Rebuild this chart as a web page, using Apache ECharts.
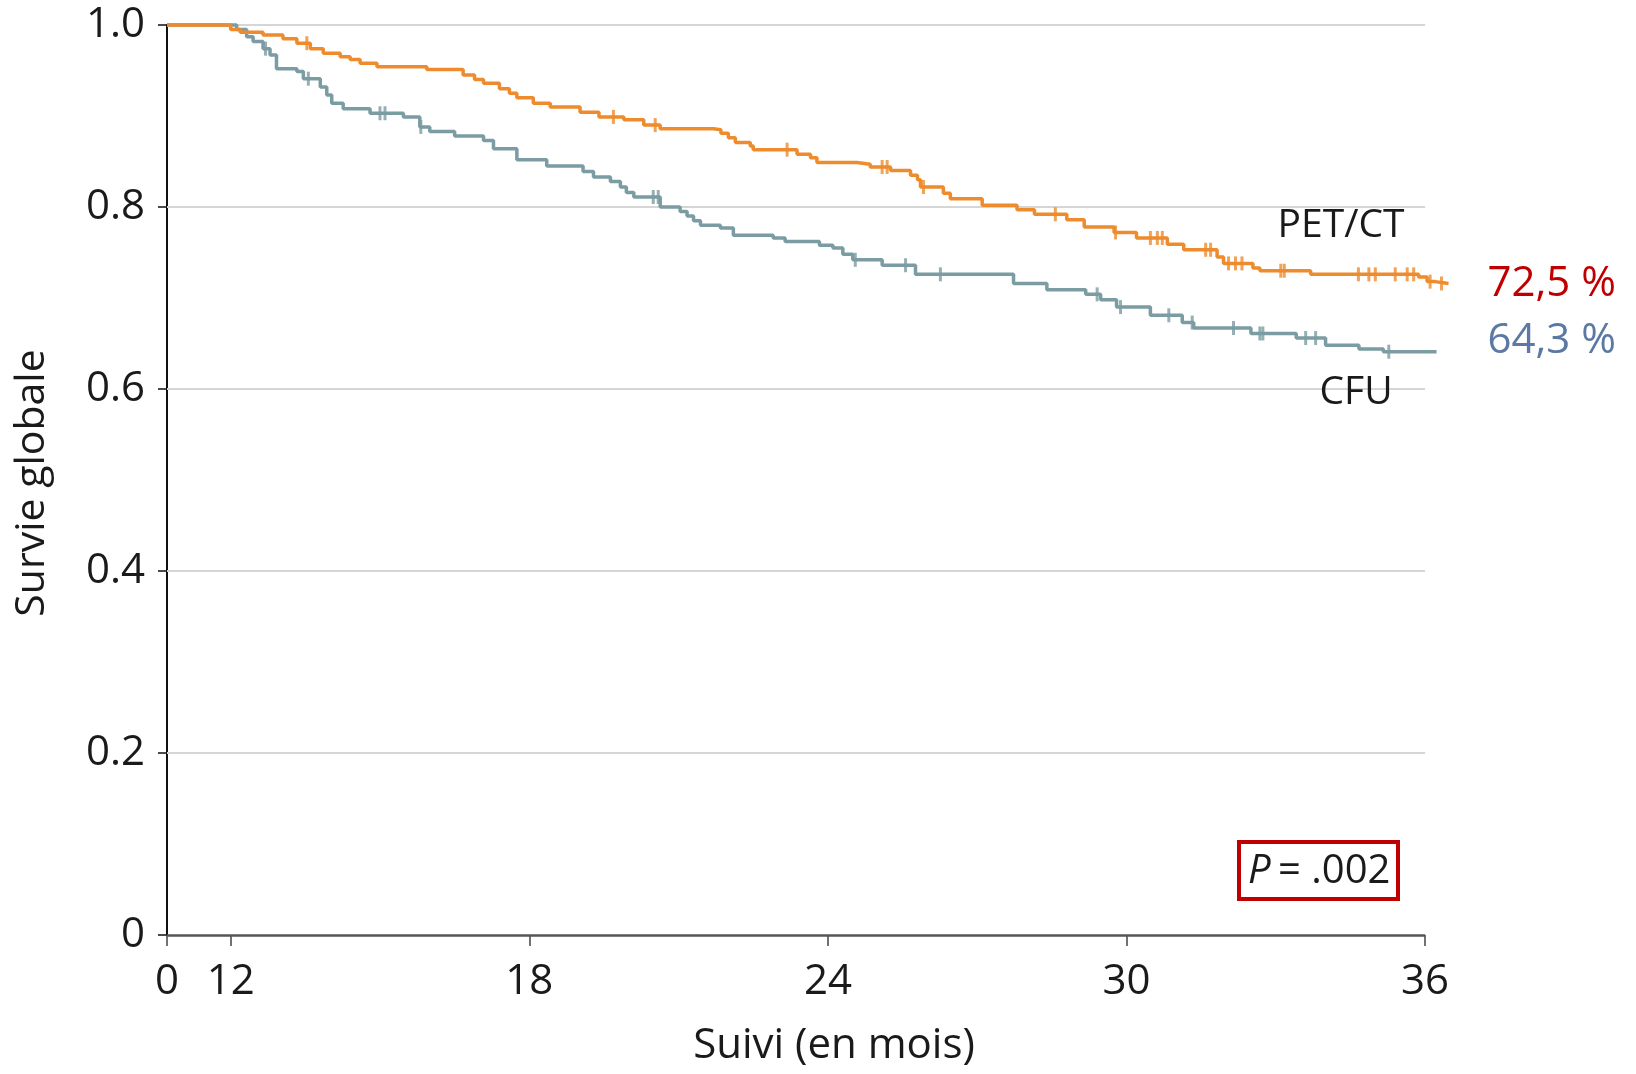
<!DOCTYPE html>
<html><head><meta charset="utf-8">
<script src="https://cdn.jsdelivr.net/npm/echarts@6/dist/echarts.min.js"></script>
<style>html,body{margin:0;padding:0;background:#fff}#c{width:1636px;height:1074px}</style>
</head><body><div id="c"></div>
<script>
// ---- data (months, survival) ----
const xTickLabels = [0, 12, 18, 24, 30, 36];
const yTickLabels = [0, 0.2, 0.4, 0.6, 0.8, 1.0];
const petSteps = [[0,1.0],[12.0,0.995],[12.19,0.992],[12.65,0.989],[13.05,0.985],[13.33,0.980],[13.6,0.974],[13.86,0.969],[14.2,0.965],[14.4,0.962],[14.6,0.958],[14.94,0.954],[15.94,0.951],[16.67,0.945],[16.9,0.940],[17.08,0.936],[17.4,0.930],[17.6,0.925],[17.75,0.920],[18.08,0.914],[18.42,0.910],[19.02,0.904],[19.4,0.899],[19.9,0.896],[20.3,0.890],[20.63,0.886],[21.7,0.885],[21.85,0.881],[22.0,0.876],[22.14,0.871],[22.44,0.867],[22.5,0.863],[23.38,0.858],[23.65,0.854],[23.78,0.849],[24.58,0.847],[24.85,0.844],[25.26,0.840],[25.66,0.835],[25.8,0.830],[25.86,0.822],[26.32,0.815],[26.46,0.809],[27.1,0.802],[27.8,0.797],[28.15,0.792],[28.8,0.786],[29.15,0.778],[29.75,0.772],[30.2,0.766],[30.82,0.759],[31.15,0.753],[31.82,0.745],[31.95,0.738],[32.54,0.733],[32.68,0.730],[33.7,0.726],[35.87,0.723],[36.04,0.718],[36.2,0.716],[36.47,0.716]];
const petCensor = [13.53,19.69,20.53,23.18,25.09,25.19,25.92,28.57,29.78,30.48,30.62,30.72,31.59,31.69,32.05,32.19,32.32,33.1,33.17,34.66,34.87,35.0,35.4,35.64,35.77,36.1,36.33];
const cfuSteps = [[0,1.0],[12.12,0.995],[12.32,0.987],[12.45,0.982],[12.65,0.974],[12.79,0.967],[12.92,0.952],[13.33,0.949],[13.46,0.941],[13.8,0.932],[13.93,0.923],[14.03,0.914],[14.26,0.908],[14.8,0.903],[15.47,0.899],[15.8,0.888],[16.0,0.883],[16.5,0.878],[17.08,0.873],[17.28,0.864],[17.75,0.852],[18.35,0.845],[19.08,0.839],[19.29,0.833],[19.63,0.828],[19.83,0.822],[19.95,0.816],[20.1,0.811],[20.63,0.800],[21.03,0.795],[21.17,0.790],[21.3,0.785],[21.44,0.780],[21.84,0.777],[22.1,0.769],[22.9,0.766],[23.14,0.762],[23.83,0.758],[24.1,0.755],[24.3,0.748],[24.5,0.742],[25.09,0.736],[25.76,0.726],[27.73,0.716],[28.4,0.709],[29.18,0.704],[29.48,0.698],[29.8,0.690],[30.48,0.681],[31.12,0.673],[31.35,0.667],[32.5,0.661],[33.41,0.656],[34.0,0.648],[34.67,0.644],[35.16,0.641],[36.23,0.641]];
const cfuCensor = [12.7,13.56,15.0,15.1,15.82,20.49,20.59,24.55,25.56,26.26,29.41,29.88,30.85,31.32,32.15,32.68,32.74,33.6,33.8,35.27];
const seriesNames = ['PET/CT', 'CFU'];
const finalLabels = ['72,5 %', '64,3 %'];
const pValueText = '= .002';

// ---- broken axis: 0..12 months compressed ----
const BREAK = 12, AXMIN = 10.72, AXEND = 36, AXMAX = 36.5;
function xpos(t){ return t >= BREAK ? t : AXMIN + t * (BREAK - AXMIN) / BREAK; }
function mapSteps(s){ return s.map(p => [xpos(p[0]), p[1]]); }
function censorPts(steps, times){
  return times.map(t => { let v = steps[0][1]; for (const p of steps){ if (p[0] <= t) v = p[1]; } return [xpos(t), v]; });
}
const ORANGE = '#EE8B2D', TEAL = '#7A9CA2';
const FONT = '"Open Sans", "Noto Sans", sans-serif';
const tickPos = xTickLabels.map(xpos);

const chart = echarts.init(document.getElementById('c'), null, {renderer:'canvas'});
chart.setOption({
  animation: false,
  grid: {left: 167, right: 186, top: 25, bottom: 139, containLabel: false},
  xAxis: {
    type: 'value', min: AXMIN, max: AXMAX,
    axisLine: {show: false},
    axisTick: {show: true, length: 11, lineStyle: {color: '#444', width: 1.5}, customValues: tickPos},
    axisLabel: {customValues: tickPos, fontFamily: FONT, fontSize: 42, color: '#1a1a1a', margin: 26,
      formatter: v => { const i = tickPos.findIndex(x => Math.abs(x - v) < 1e-6); return i >= 0 ? String(xTickLabels[i]) : ''; }},
    splitLine: {show: false}
  },
  yAxis: {
    type: 'value', min: 0, max: 1, interval: 0.2,
    axisLine: {show: true, lineStyle: {color: '#111', width: 2}},
    axisTick: {show: true, length: 9, lineStyle: {color: '#111', width: 1.5}},
    axisLabel: {fontFamily: FONT, fontSize: 42, color: '#1a1a1a', margin: 22,
      formatter: v => { const m = yTickLabels.find(y => Math.abs(y - v) < 1e-6); return m === 0 ? '0' : (m !== undefined ? m.toFixed(1) : ''); }},
    splitLine: {show: false}
  },
  series: [
    {type: 'line', data: [], silent: true, z: 1,
     markLine: {silent: true, z: 1, symbol: 'none', label: {show: false}, animation: false,
       data: yTickLabels.filter(y => y > 0).map(y => [{coord: [AXMIN, y], lineStyle: {color: '#d6d6d6', width: 2, type: 'solid'}}, {coord: [AXEND, y]}])
         .concat([[{coord: [AXMIN, 0], lineStyle: {color: '#555', width: 2.5, type: 'solid'}}, {coord: [AXEND, 0]}]])}},
    {name: seriesNames[1], type: 'line', step: 'end', data: mapSteps(cfuSteps), showSymbol: false, clip: false,
     lineStyle: {color: TEAL, width: 3.5}, z: 3},
    {name: seriesNames[0], type: 'line', step: 'end', data: mapSteps(petSteps), showSymbol: false, clip: false,
     lineStyle: {color: ORANGE, width: 3.5}, z: 4},
    {type: 'scatter', data: censorPts(cfuSteps, cfuCensor), symbol: 'rect', symbolSize: [3, 14], clip: false,
     itemStyle: {color: TEAL}, z: 3},
    {type: 'scatter', data: censorPts(petSteps, petCensor), symbol: 'rect', symbolSize: [3, 14], clip: false,
     itemStyle: {color: ORANGE}, z: 4}
  ],
  graphic: [
    {type: 'text', x: 834, y: 1046, style: {text: 'Suivi (en mois)', font: '42px ' + FONT, fill: '#1a1a1a', align: 'center', verticalAlign: 'middle'}},
    {type: 'text', x: 32, y: 483, rotation: Math.PI / 2, style: {text: 'Survie globale', font: '41px ' + FONT, fill: '#1a1a1a', align: 'center', verticalAlign: 'middle'}},
    {type: 'text', x: 1341, y: 226, z: 10, style: {text: seriesNames[0], font: '39px ' + FONT, fill: '#1a1a1a', align: 'center', verticalAlign: 'middle'}},
    {type: 'text', x: 1356, y: 393, z: 10, style: {text: seriesNames[1], font: '39px ' + FONT, fill: '#1a1a1a', align: 'center', verticalAlign: 'middle'}},
    {type: 'text', x: 1616, y: 284, style: {text: finalLabels[0], font: '42px ' + FONT, fill: '#C00000', align: 'right', verticalAlign: 'middle'}},
    {type: 'text', x: 1616, y: 341, style: {text: finalLabels[1], font: '42px ' + FONT, fill: '#5B79A3', align: 'right', verticalAlign: 'middle'}},
    {type: 'rect', shape: {x: 1239, y: 842, width: 159, height: 57}, style: {fill: '#fff', stroke: '#C00000', lineWidth: 4}},
    {type: 'text', x: 1248, y: 872, style: {text: 'P', font: 'italic 40px ' + FONT, fill: '#1a1a1a', align: 'left', verticalAlign: 'middle'}},
    {type: 'text', x: 1278, y: 872, style: {text: pValueText, font: '40px ' + FONT, fill: '#1a1a1a', align: 'left', verticalAlign: 'middle'}}
  ]
});
</script></body></html>
